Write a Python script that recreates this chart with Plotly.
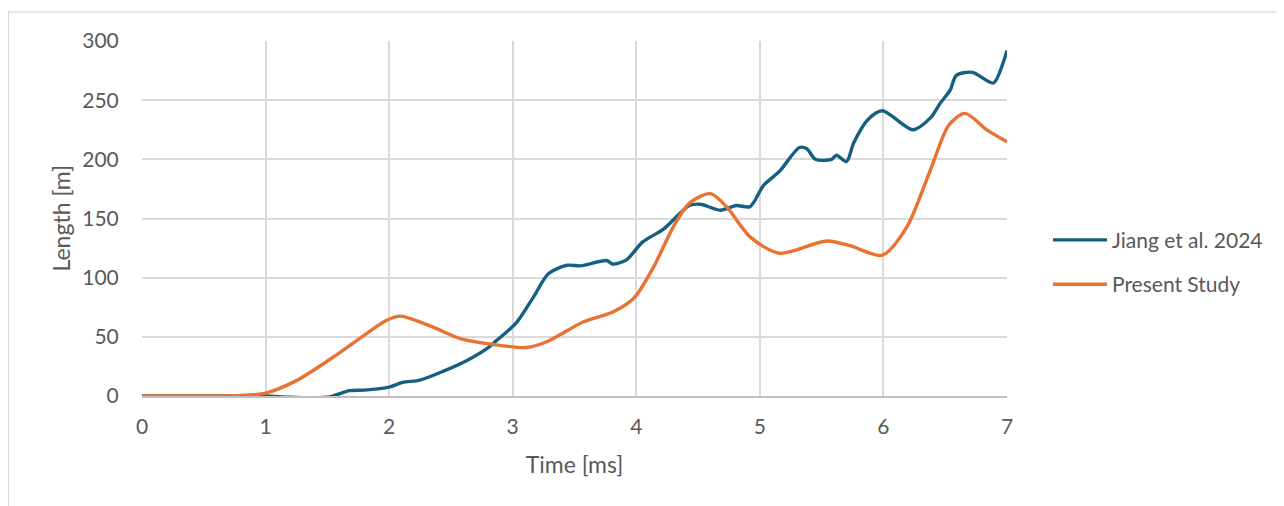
import plotly.graph_objects as go

jiang_t = [0, 0.5, 1.0, 1.2, 1.5, 1.68, 1.8, 2.0, 2.11, 2.25, 2.44, 2.63, 2.79, 2.87, 3.03, 3.17, 3.29,
           3.44, 3.55, 3.76, 3.81, 3.92, 4.05, 4.22, 4.43, 4.52, 4.68, 4.81, 4.92, 5.03, 5.16, 5.32,
           5.38, 5.45, 5.58, 5.62, 5.70, 5.76, 5.87, 5.99, 6.24, 6.38, 6.46, 6.54, 6.59, 6.72, 6.89,
           6.97, 7.0]
jiang_len = [0, 0, 0, -1, -1, 4.5, 5, 7.5, 11.5, 13.5, 21, 30, 40, 47, 62, 84, 103.5,
             110.5, 110, 114.5, 111.5, 115, 130, 141, 161, 162, 157, 161, 160, 178, 190, 210,
             209, 200, 200, 203.5, 198, 214, 233, 241, 225, 235, 247.5, 258.5, 271, 273.5, 264.5,
             282, 292]

present_t = [0, 0.5, 0.8, 1.0, 1.25, 1.55, 1.82, 1.98, 2.09, 2.36, 2.57, 2.84, 3.11, 3.27, 3.57,
             3.81, 3.98, 4.14, 4.30, 4.43, 4.60, 4.73, 4.92, 5.16, 5.54, 5.73, 5.99, 6.19, 6.38,
             6.53, 6.66, 6.84, 7.0]
present_len = [0, 0, 0.5, 2.5, 13, 33, 53, 64, 67.5, 58, 48.7, 43.6, 41, 45.6, 62.5,
               71, 82.6, 109, 143, 163, 171, 160, 134.5, 120.6, 131, 127, 119, 143, 191,
               229, 238.8, 224.7, 214.8]

series_names = ["Jiang et al. 2024", "Present Study"]
x_ticks = [0, 1, 2, 3, 4, 5, 6, 7]
y_ticks = [0, 50, 100, 150, 200, 250, 300]
x_title = "Time [ms]"
y_title = "Length [m]"

FONT = "Lato, 'Open Sans', sans-serif"
GRAY = "#595959"

fig = go.Figure()
fig.add_trace(go.Scatter(x=jiang_t, y=jiang_len, mode="lines", name=series_names[0], legendgroup="a",
                         line=dict(color="#156082", width=3.4, shape="spline", smoothing=0.8)))
fig.add_trace(go.Scatter(x=present_t, y=present_len, mode="lines", name=series_names[1], legendgroup="b",
                         line=dict(color="#E97132", width=3.4, shape="spline", smoothing=0.8)))

# page is offset by the 8px body margin -> target coords minus 8
OFF = 8
W, H = 1284, 506
L, T = 142 - OFF, 41 - OFF
Rx, By = 1007 - OFF, 395.6 - OFF
R, B = W - Rx, H - By
pw, ph = Rx - L, By - T

fig.update_layout(
    width=W, height=H,
    margin=dict(l=L, r=R, t=T, b=B, autoexpand=False),
    paper_bgcolor="white", plot_bgcolor="white",
    font=dict(family=FONT, color=GRAY, size=21),
    showlegend=True,
    legend=dict(x=(1048 - OFF - L) / pw, xanchor="left", y=(By - (262 - OFF)) / ph, yanchor="middle",
                font=dict(size=21, color=GRAY), bgcolor="rgba(0,0,0,0)",
                tracegroupgap=14, itemwidth=54),
    xaxis=dict(range=[0, 7], tickvals=x_ticks, showgrid=True, gridcolor="#d9d9d9", gridwidth=1.5,
               zeroline=False, showline=True, linecolor="#bfbfbf", linewidth=1.5,
               ticks="outside", ticklen=11, tickcolor="rgba(0,0,0,0)",
               tickfont=dict(size=21, color=GRAY),
               title=dict(text=x_title, font=dict(size=23, color=GRAY), standoff=20)),
    yaxis=dict(range=[0, 300], tickvals=y_ticks, showgrid=True, gridcolor="#d9d9d9", gridwidth=1.5,
               zeroline=False, showline=False,
               ticks="outside", ticklen=18, tickcolor="rgba(0,0,0,0)",
               tickfont=dict(size=21, color=GRAY)),
    annotations=[dict(text=y_title, xref="paper", yref="paper", x=(60 - OFF - L) / pw, y=0.5,
                      xanchor="center", yanchor="middle", textangle=-90, showarrow=False,
                      font=dict(size=23, color=GRAY))],
    shapes=[dict(type="rect", xref="paper", yref="paper",
                 x0=(8 - OFF - L + 0.5) / pw, x1=(1300 - OFF - L) / pw,
                 y0=(By - (520 - OFF)) / ph, y1=(By - (12 - OFF)) / ph,
                 line=dict(color="#d9d9d9", width=1.2), fillcolor="rgba(0,0,0,0)", layer="below")],
)

fig.write_html("out.html")
